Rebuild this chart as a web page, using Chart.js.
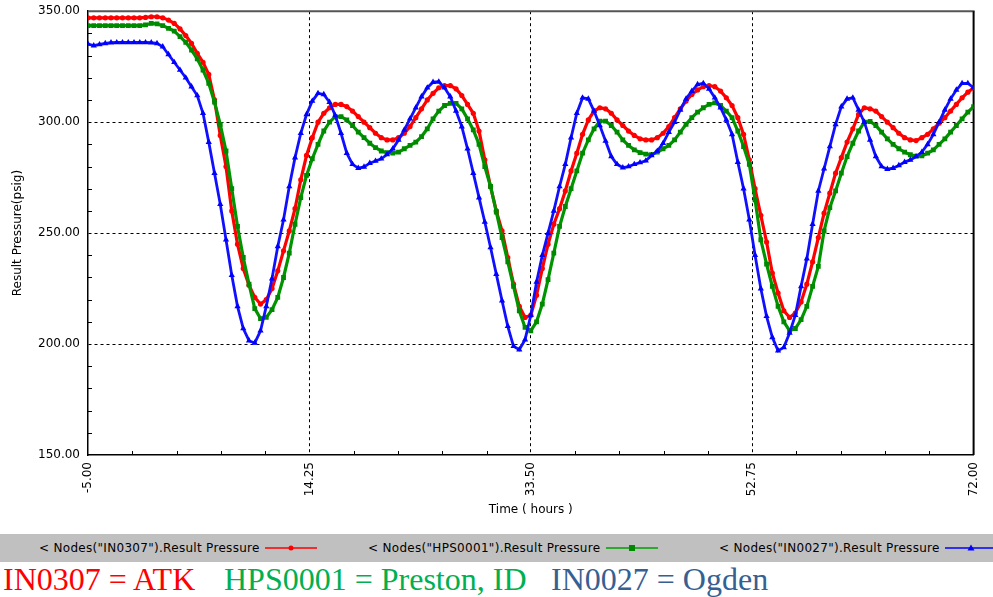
<!DOCTYPE html>
<html>
<head>
<meta charset="utf-8">
<script src="https://cdn.jsdelivr.net/npm/chart.js@4.4.1/dist/chart.umd.min.js"></script>
<style>
  html, body { margin: 0; padding: 0; background: #fff; overflow: hidden; }
  #wrap { position: relative; width: 993px; height: 597px; overflow: hidden; }
  #chart { position: absolute; left: 0; top: -4px; }
  #legend { position: absolute; left: 0; top: 534px; width: 993px; height: 28px; background: #c0c0c0;
            font: 12px "DejaVu Sans", sans-serif; color: #000; }
  #legend span { position: absolute; top: 7px; white-space: nowrap; letter-spacing: 0.3px; }
  #legend svg { position: absolute; top: 8px; }
  #names { position: absolute; left: 0; top: 563px; width: 993px; height: 34px;
           font: 32px "Liberation Serif", "Times New Roman", serif; line-height: 32px; white-space: nowrap; }
  #names span { position: absolute; top: 0; }
</style>
</head>
<body>
<div id="wrap">
  <canvas id="chart" width="995" height="534"></canvas>
  <div id="legend"></div>
  <div id="names"></div>
</div>
<script>
// time grid (hours) and pressures (psig), every half hour
const T_START = -5;
const T_STEP = 0.5;

const IN0307 = [
  347, 347, 347, 347, 347, 347, 347, 347, 347, 347,
  347.2, 347.5, 347.5, 347, 346, 344.5, 342, 339, 335.5, 331,
  327, 321.5, 310, 294, 280, 260, 245, 234, 226.5, 221,
  218, 220, 225, 233, 242, 251, 261, 274, 285, 293,
  300, 304, 306.5, 308, 308, 307, 305, 302.5, 300, 297.5,
  295, 293, 292, 292, 293, 295, 298, 302, 306, 310,
  313, 315.5, 316.5, 316.5, 315, 312, 308, 304, 296, 283,
  271, 260, 251, 239, 227, 217, 212, 213, 222, 234,
  245, 254, 261, 269, 278, 286, 294.5, 301, 305, 306.5,
  306, 304, 301, 298.5, 296, 294, 292.5, 292, 292, 293,
  295, 298, 302, 306, 309.5, 312.5, 314.5, 316, 316.5, 316,
  314, 311, 307.5, 302, 294.5, 283, 270, 258, 246, 232,
  223, 215, 212, 214, 219, 227, 237, 248, 259, 268,
  277, 284, 291, 297, 303.5, 306.5, 306, 305, 302.5, 300,
  297.5, 295, 293, 292, 291.7, 293, 294.5, 297, 299.5, 302,
  305, 308, 311, 313.5, 315.5
];

const HPS0001 = [
  343.5, 343.5, 343.5, 343.5, 343.5, 343.5, 343.5, 343.5, 343.5, 343.5,
  343.8, 344.5, 344.3, 343.5, 342.3, 341, 338.5, 336, 332.5, 328.5,
  323.5, 317.5, 309, 299, 287, 270, 253, 239, 227, 216,
  211.5, 212, 215.5, 221, 230, 241, 254, 266, 276, 283.5,
  290, 296, 300, 302.5, 302.5, 301, 298.5, 295.5, 293, 290.5,
  288.5, 287, 286.2, 286, 286.5, 288, 289.5, 291, 293.5, 297,
  301.5, 305, 307.5, 308.5, 308.5, 306, 301.5, 296.5, 290, 280,
  271, 259.5, 248, 237, 226, 215, 207.5, 206, 210, 218,
  229, 241, 253, 262, 270, 278, 286, 292, 297, 300.5,
  300.5, 298.5, 295.5, 292, 289.5, 287.5, 286.3, 285.6, 285.4, 286.5,
  288, 289.5, 292, 295.5, 299, 302, 304.5, 306.5, 308, 308.7,
  307.5, 305, 302, 296, 289, 281, 265, 247, 236, 226,
  217, 210, 206, 207, 211, 217, 226, 235, 251, 261.5,
  269, 277, 284.5, 290.5, 296, 300, 300.3, 298.5, 295.5, 292.5,
  290, 288, 286.5, 285.3, 284.7, 284.8, 286, 287.5, 290, 292.5,
  295.5, 298.5, 301.5, 304.5, 307
];

const IN0027 = [
  335.2, 334.5, 335, 335.5, 335.8, 335.9, 335.9, 335.9, 335.9, 335.9,
  335.9, 335.8, 335.5, 334, 330.5, 327, 323.5, 320, 316, 312,
  304, 291, 277, 263, 247, 231, 217, 207, 201.5, 200.5,
  206, 217, 229.5, 244, 256, 271, 284, 295, 303.5, 309.5,
  313, 312.5, 309, 303, 295, 286, 281, 279.3, 279.8, 281.5,
  282.5, 283.5, 285.4, 288, 292, 296.5, 301.5, 306.5, 311.5, 315.5,
  318, 318.2, 315.5, 311.5, 305, 298, 288, 277, 266, 255,
  243.5, 231.5, 219.5, 208, 199, 197.5, 202, 213, 228, 240,
  250, 260, 271, 281, 293, 304, 311, 310.5, 305, 298.5,
  291.5, 284.5, 281, 279.5, 280, 281, 281.8, 282.6, 285, 287,
  290.5, 295.5, 300, 305.5, 310.5, 314, 317, 317.5, 315, 311,
  306.5, 301, 294.5, 282, 270, 256, 240, 225, 212.5, 203,
  197, 198.5, 205, 213, 226, 238.5, 254, 269, 279, 289,
  299, 307, 310.5, 311, 305.5, 300, 292, 284.5, 280, 278.8,
  279.3, 280.5, 282, 283, 284.5, 286.5, 290, 294.5, 300, 305.5,
  310.5, 314.5, 317.5, 317.5, 315.5
];

const X_TICKS = [-5, 14.25, 33.5, 52.75, 72];
const Y_TICKS = [150, 200, 250, 300, 350];
const SERIES = ['< Nodes("IN0307").Result Pressure', '< Nodes("HPS0001").Result Pressure', '< Nodes("IN0027").Result Pressure'];
const NAMES = ['IN0307 = ATK', 'HPS0001 = Preston, ID', 'IN0027 = Ogden'];

const TIMES = IN0307.map((_, i) => T_START + i * T_STEP);
const pts = vals => vals.map((v, i) => ({ x: TIMES[i], y: v }));

Chart.defaults.font.family = '"DejaVu Sans", sans-serif';
Chart.defaults.font.size = 12;
Chart.defaults.color = '#000';

// inward minor ticks + top/right frame
const frame = {
  id: 'frame',
  beforeDatasetsDraw(chart) {
    const { ctx, chartArea: a, scales: { x, y } } = chart;
    ctx.save();
    ctx.strokeStyle = '#000';
    ctx.lineWidth = 1;
    ctx.beginPath();
    const yStep = (Y_TICKS[1] - Y_TICKS[0]) / 5;
    for (let k = 1; k < (Y_TICKS.length - 1) * 5; k++) {
      if (k % 5 === 0) continue;
      const py = Math.round(y.getPixelForValue(Y_TICKS[0] + k * yStep)) + 0.5;
      ctx.moveTo(a.left, py); ctx.lineTo(a.left + 4, py);
    }
    const xStep = (X_TICKS[1] - X_TICKS[0]) / 5;
    for (let k = 1; k < (X_TICKS.length - 1) * 5; k++) {
      if (k % 5 === 0) continue;
      const px = Math.round(x.getPixelForValue(X_TICKS[0] + k * xStep)) + 0.5;
      ctx.moveTo(px, a.bottom); ctx.lineTo(px, a.bottom - 4);
    }
    ctx.stroke();
    ctx.lineWidth = 2;
    ctx.strokeStyle = '#555';
    ctx.beginPath(); ctx.moveTo(a.left, a.top); ctx.lineTo(a.right + 1, a.top); ctx.stroke();
    ctx.strokeStyle = '#000';
    ctx.beginPath(); ctx.moveTo(a.right, a.top); ctx.lineTo(a.right, a.bottom); ctx.stroke();
    ctx.restore();
  }
};

const edgeless = (lo, hi) => c => (c.tick && (c.tick.value === lo || c.tick.value === hi)) ? 'rgba(0,0,0,0)' : '#000';

new Chart(document.getElementById('chart'), {
  type: 'line',
  data: {
    datasets: [
      { label: SERIES[0], data: pts(IN0307), borderColor: '#ff0000', backgroundColor: '#ff0000',
        pointStyle: 'circle', pointRadius: 2.6, pointBorderWidth: 0, borderWidth: 3.2, order: 2 },
      { label: SERIES[1], data: pts(HPS0001), borderColor: '#009400', backgroundColor: '#008800',
        pointStyle: 'rect', pointRadius: 3.4, pointBorderWidth: 0, borderWidth: 3.2, order: 1 },
      { label: SERIES[2], data: pts(IN0027), borderColor: '#1010ff', backgroundColor: '#0000ff',
        pointStyle: 'triangle', pointRadius: 3.6, pointBorderWidth: 0, borderWidth: 2.8, order: 0 }
    ]
  },
  options: {
    responsive: false,
    animation: false,
    devicePixelRatio: 1,
    layout: { padding: { top: 6, right: 0, left: 0, bottom: 0 } },
    plugins: { legend: { display: false }, tooltip: { enabled: false } },
    scales: {
      x: {
        type: 'linear', min: X_TICKS[0], max: X_TICKS[X_TICKS.length - 1],
        afterBuildTicks: s => { s.ticks = X_TICKS.map(v => ({ value: v })); },
        afterFit: s => { s.height = 75; },
        ticks: { autoSkip: false, minRotation: 90, maxRotation: 90, padding: 7, callback: v => Number(v).toFixed(2) },
        grid: { drawTicks: false, tickLength: 0, lineWidth: 1, color: edgeless(X_TICKS[0], X_TICKS[X_TICKS.length - 1]) },
        border: { color: '#000', width: 1.5, dash: [3, 3] },
        title: { display: true, text: 'Time ( hours )', padding: { top: 0, bottom: 13 } }
      },
      y: {
        min: Y_TICKS[0], max: Y_TICKS[Y_TICKS.length - 1],
        afterBuildTicks: s => { s.ticks = Y_TICKS.map(v => ({ value: v })); },
        afterFit: s => { s.width = 88; },
        ticks: { padding: 8, callback: v => Number(v).toFixed(2) },
        grid: { drawTicks: false, tickLength: 0, lineWidth: 1, color: edgeless(Y_TICKS[0], Y_TICKS[Y_TICKS.length - 1]) },
        border: { color: '#000', width: 1.5, dash: [3, 3] },
        title: { display: true, text: 'Result Pressure(psig)', padding: { top: 11, bottom: 0 } }
      }
    }
  },
  plugins: [frame]
});

// legend bar
const legend = document.getElementById('legend');
const LEG_TEXT_X = [39, 368, 719];
const LEG_LINE_X = [265, 606, 945];
const LEG_COLORS = ['#ff0000', '#00a000', '#0000ff'];
const MARKS = [
  '<circle cx="26" cy="6" r="2.5" fill="#ff0000"/>',
  '<rect x="23" y="3" width="6" height="6" fill="#008800"/>',
  '<polygon points="26,2.5 29.5,8.5 22.5,8.5" fill="#0000ff"/>'
];
SERIES.forEach((s, i) => {
  const span = document.createElement('span');
  span.textContent = s;
  span.style.left = LEG_TEXT_X[i] + 'px';
  legend.appendChild(span);
  legend.insertAdjacentHTML('beforeend',
    `<svg width="52" height="12" style="left:${LEG_LINE_X[i]}px"><line x1="0" y1="6" x2="52" y2="6" stroke="${LEG_COLORS[i]}" stroke-width="1.5"/>${MARKS[i]}</svg>`);
});

// station names line
const names = document.getElementById('names');
const NAME_X = [3, 224, 551];
const NAME_COLORS = ['#ff0000', '#00b050', '#366092'];
NAMES.forEach((n, i) => {
  const span = document.createElement('span');
  span.textContent = n;
  span.style.left = NAME_X[i] + 'px';
  span.style.color = NAME_COLORS[i];
  names.appendChild(span);
});
</script>
</body>
</html>
